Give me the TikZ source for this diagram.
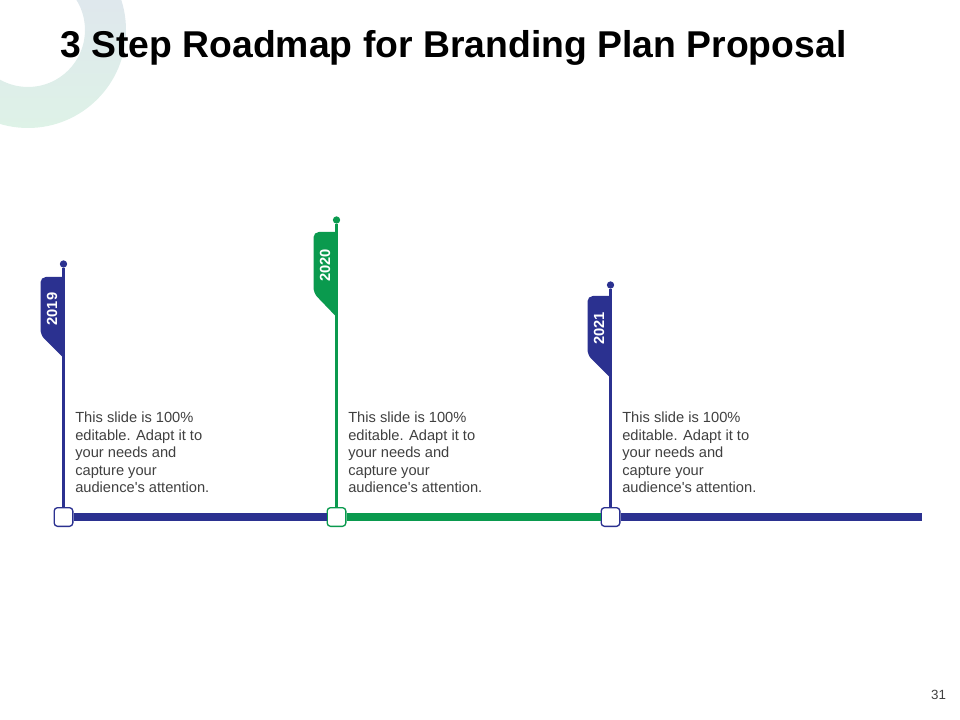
\documentclass[tikz,border=0pt]{standalone}
\usepackage{fontspec}
\setmainfont{Liberation Sans}
\usepackage{tikz}

\definecolor{roadblue}{HTML}{2B3190}
\definecolor{roadgreen}{HTML}{0A9A4E}
\definecolor{bodygray}{HTML}{404040}
\definecolor{ringtop}{HTML}{DFE2F0}
\definecolor{ringbot}{HTML}{DEF2E7}

\tikzset{
  stopbox/.style={draw=#1, fill=white, line width=1pt, rounded corners=2.5pt, minimum size=14pt, inner sep=0pt},
  knob/.style={circle, fill=#1, inner sep=0pt, minimum size=5.5pt},
  year/.style={rotate=90, text=white, font=\bfseries\fontsize{11}{12}\selectfont},
  blurb/.style={anchor=north west, align=left, text=bodygray, inner sep=0pt, font=\fontsize{11}{13.1}\selectfont}
}

\begin{document}
\begin{tikzpicture}[x=0.75pt, y=-0.75pt]
            \useasboundingbox (0,0) rectangle (960,720);
            \clip (0,0) rectangle (960,720);
            % ring in the corner
            \shade[even odd rule, top color=ringtop, bottom color=ringbot] (28,30) circle (98) (28,30) circle (57);
            \node[anchor=base west, inner sep=0pt, font=\bfseries\fontsize{28}{32}\selectfont] (title) at (60,58) {3 Step Roadmap for Branding Plan Proposal};
            % milestones
            \foreach \n/\px/\py/\fa/\fb/\fc/\col/\yr in {1/63.5/264/277/335/358/roadblue/2019, 2/336.5/220/232/293/317/roadgreen/2020, 3/610.5/285/296/355/378/roadblue/2021} {
                \node[stopbox=\col] (s\n) at (\px,517) {};
                \node[knob=\col] (d\n) at (\px,\py) {};
                \draw[\col, line width=1.6pt] (d\n) -- (s\n);
                \fill[\col] (\px,\fa) [rounded corners=4pt] -- (\px-23,\fa) -- (\px-23,\fb) [sharp corners] -- (\px,\fc) -- cycle;
                \node[year] (y\n) at (\px-11.5, {(\fa+\fb)/2+3}) {\yr};
                \node[blurb] (t\n) at (\px+11.5,412) {This slide is 100\%\\editable. Adapt it to\\your needs and\\capture your\\audience\textquotesingle s attention.};
            }
            \coordinate (lineend) at (922,517);
            \draw[roadblue, line width=6pt] (s1) -- (s2);
            \draw[roadgreen, line width=6pt] (s2) -- (s3);
            \draw[roadblue, line width=6pt] (s3) -- (lineend);
            \node[text=bodygray, font=\fontsize{10}{12}\selectfont] (page) at (938.5,695) {31};
        \end{tikzpicture}
\end{document}
